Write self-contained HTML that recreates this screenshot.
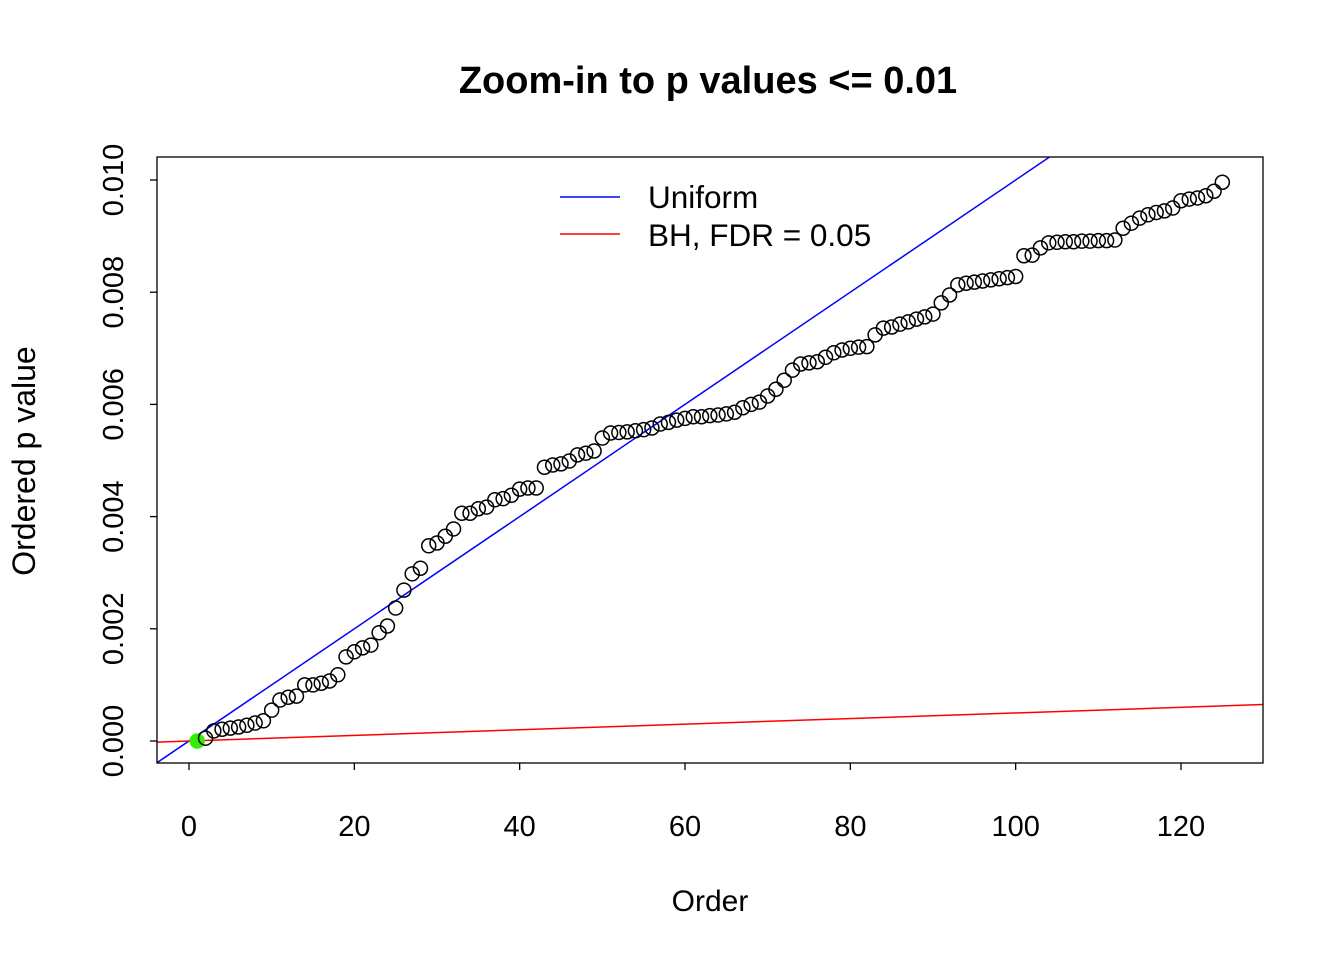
<!DOCTYPE html>
<html><head><meta charset="utf-8"><style>
body{margin:0;background:#fff}
text{font-family:"Liberation Sans",Arial,sans-serif}
</style></head><body>
<svg id="chart" width="1344" height="960" xmlns="http://www.w3.org/2000/svg">
<rect width="1344" height="960" fill="#fff"/>
<text x="708" y="93" font-size="38" font-weight="bold" text-anchor="middle">Zoom-in to p values &lt;= 0.01</text>
<text x="710" y="911" font-size="30" text-anchor="middle">Order</text>
<text transform="translate(35,461) rotate(-90)" font-size="32" text-anchor="middle">Ordered p value</text>
<g id="plot"></g>
<rect x="157" y="157" width="1106" height="606" fill="none" stroke="#000" stroke-width="1.3"/>
<g>
<line x1="560" y1="197" x2="620" y2="197" stroke="#00f" stroke-width="1.5"/>
<text x="648" y="208" font-size="31.5">Uniform</text>
<line x1="560" y1="234" x2="620" y2="234" stroke="#f00" stroke-width="1.5"/>
<text x="648" y="246" font-size="31.5">BH, FDR = 0.05</text>
</g>
</svg>
<script>
const pvals = [0,0.05,0.18,0.21,0.23,0.25,0.28,0.32,0.36,0.55,0.73,0.78,0.80,1.0,1.0,1.03,1.07,1.18,1.5,1.59,1.66,1.71,1.93,2.05,2.37,2.69,2.98,3.08,3.48,3.53,3.65,3.78,4.06,4.06,4.14,4.17,4.30,4.32,4.38,4.49,4.51,4.51,4.88,4.92,4.94,4.99,5.10,5.13,5.17,
5.40,5.49,5.50,5.51,5.53,5.55,5.58,5.65,5.68,5.72,5.75,5.78,5.78,5.80,5.81,5.83,5.86,5.94,6.0,6.04,6.15,6.27,6.43,6.61,6.72,6.74,6.76,6.84,6.92,6.97,7.0,7.02,7.03,
7.24,7.36,7.38,7.43,7.47,7.52,7.56,7.61,7.81,7.95,8.13,8.16,8.18,8.20,8.22,8.24,8.26,8.28,
8.65,8.66,8.79,8.88,8.89,8.90,8.90,8.91,8.91,8.92,8.92,8.93,9.14,9.23,9.32,9.38,9.42,9.45,9.50,9.63,9.66,9.68,9.72,9.80,9.96].map(v=>v/1000);
const xTicks = [0,20,40,60,80,100,120];
const yTicks = [0,0.002,0.004,0.006,0.008,0.010];
const yTickLabels = ["0.000","0.002","0.004","0.006","0.008","0.010"];
const uniformSlope = 0.0001;
const bhSlope = 0.05*0.0001;
const X = v => 189 + v*(1181-189)/120;
const Y = v => 741 - v*(741-180)/0.010;
const NS="http://www.w3.org/2000/svg";
const g=document.getElementById('plot');
function mk(tag,attrs,parent){const e=document.createElementNS(NS,tag);for(const k in attrs)e.setAttribute(k,attrs[k]);(parent||g).appendChild(e);return e;}
xTicks.forEach(t=>{
  const l=mk('line',{x1:X(t),x2:X(t),y1:763,y2:770,stroke:'#000','stroke-width':1.3});
  
  
  const tx=mk('text',{x:X(t),y:836,'font-size':29,'text-anchor':'middle'});
  tx.textContent=t;
  
  
});
yTicks.forEach((t,i)=>{
  const l=mk('line',{x1:150,x2:157,y1:Y(t),y2:Y(t),stroke:'#000','stroke-width':1.3});
  
  
  const tx=mk('text',{transform:`translate(123,${Y(t)}) rotate(-90)`,'font-size':29,'text-anchor':'middle'});
  tx.textContent=yTickLabels[i];
  
  
});
const clip=mk('clipPath',{id:'pc'});mk('rect',{x:157,y:157,width:1106,height:606},clip);
const x0=-4,x1=130;
const u=mk('line',{x1:X(x0),y1:Y(x0*uniformSlope),x2:X(x1),y2:Y(x1*uniformSlope),stroke:'#00f','stroke-width':1.5,'clip-path':'url(#pc)'});


const b=mk('line',{x1:X(x0),y1:Y(x0*bhSlope),x2:X(x1),y2:Y(x1*bhSlope),stroke:'#f00','stroke-width':1.5,'clip-path':'url(#pc)'});


pvals.forEach((p,i)=>{
  const sig = p <= (i+1)*bhSlope;
  const c=mk('circle',{cx:X(i+1),cy:Y(p),r:7,fill:sig?'#33ee00':'none',stroke:sig?'#33ee00':'#000','stroke-width':1.5});
  
  
});
</script>
</body></html>
